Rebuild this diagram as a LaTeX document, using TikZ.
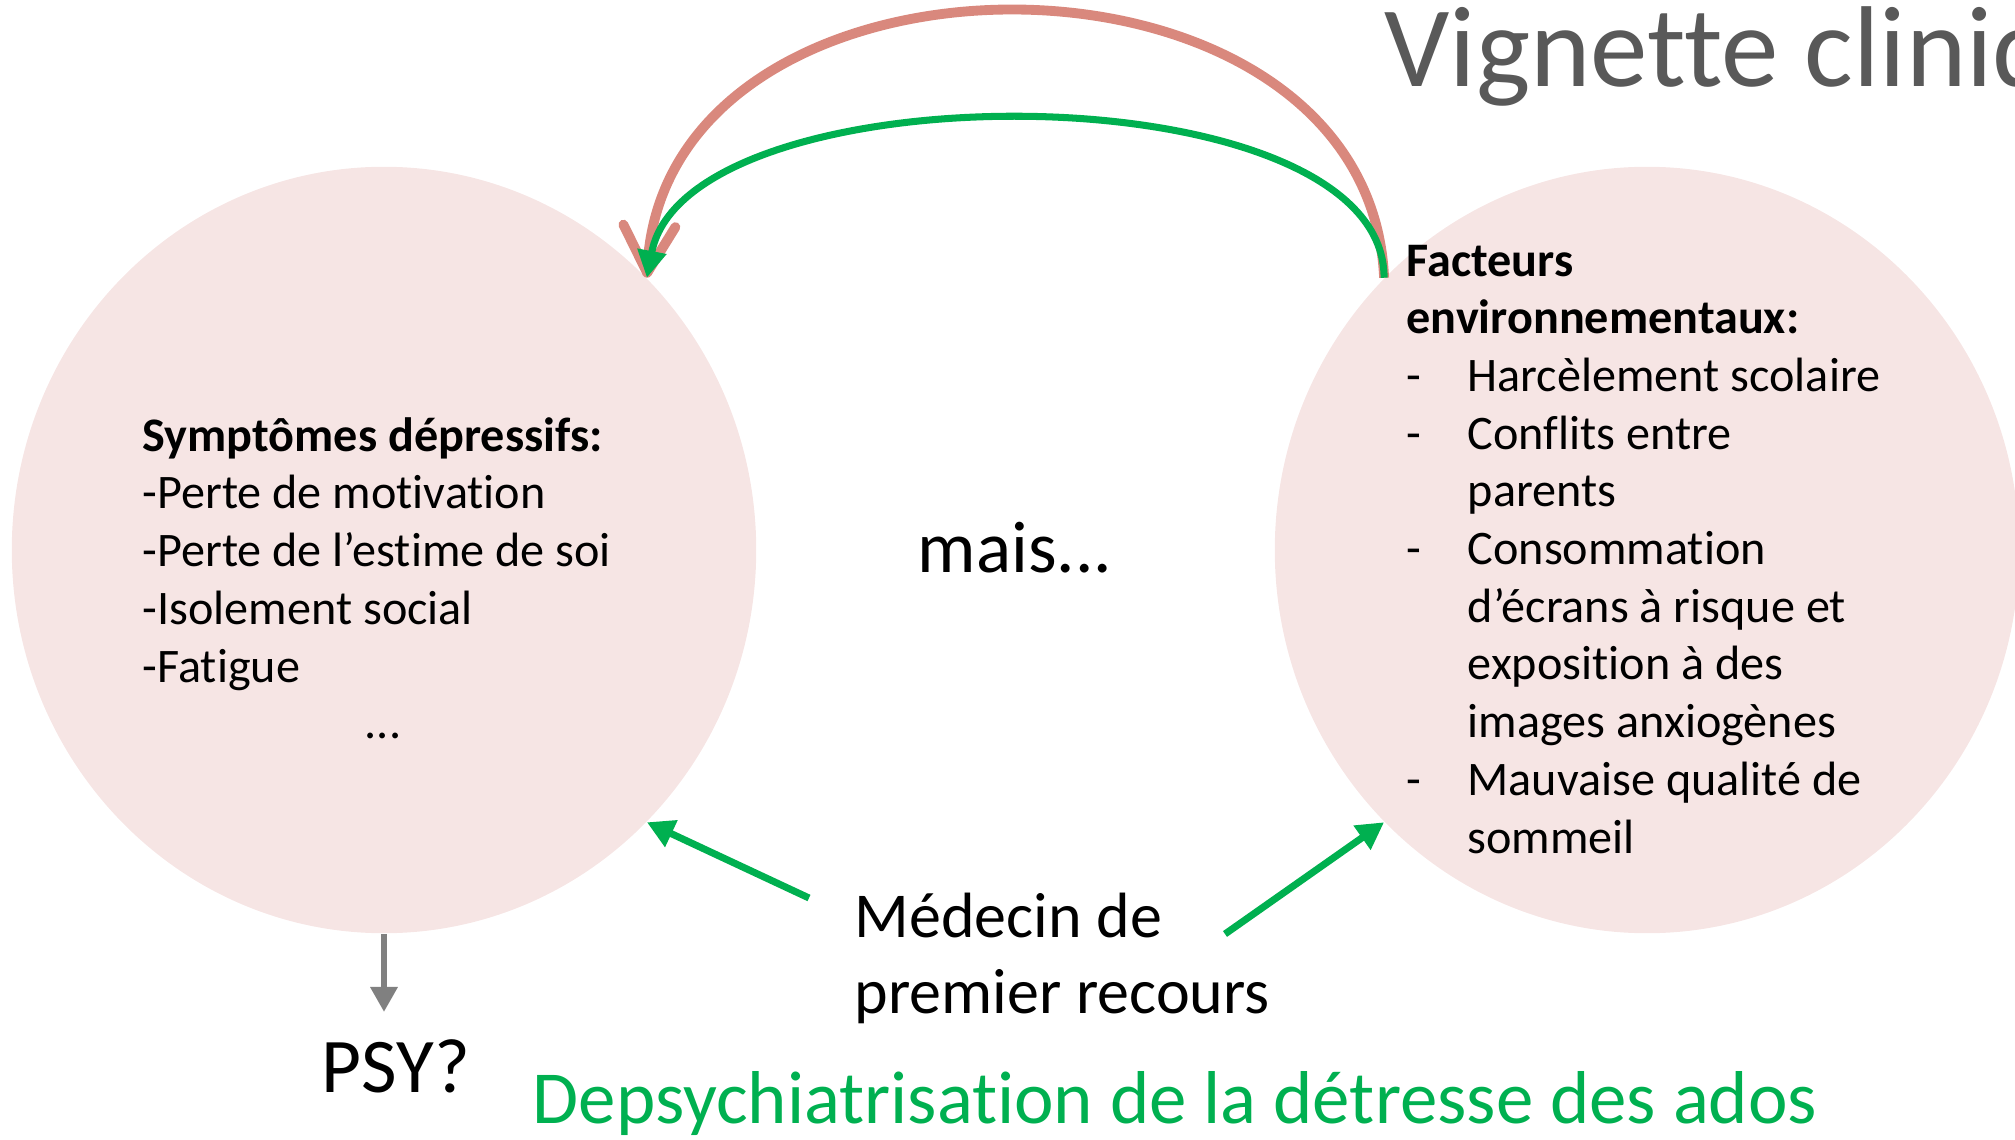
\documentclass[tikz,border=0pt]{standalone}
\usepackage{fontspec}
\setmainfont[Ligatures={NoCommon}]{Carlito}
\usetikzlibrary{arrows.meta}
\usetikzlibrary{shapes.geometric}
\definecolor{blobfill}{RGB}{246,229,228}
\definecolor{loopred}{RGB}{217,136,125}
\definecolor{docgreen}{RGB}{0,176,80}
\definecolor{titlegray}{RGB}{89,89,89}
\definecolor{psygray}{RGB}{128,128,128}
\tikzset{blob/.style = {shape=ellipse,fill=blobfill,minimum width=7.44cm,minimum height=7.66cm,inner sep=0pt}}
\tikzset{body/.style = {font=\fontsize{13.7}{16.4}\selectfont,align=left,inner sep=0pt,anchor=base west}}
\tikzset{greenarrow/.style = {draw=docgreen,line width=2pt,-{Triangle[length=0.27cm,width=0.28cm]}}}
\newcommand{\itm}{\makebox[0.61cm][l]{-}}
\newcommand{\gap}{\hspace*{0.61cm}}

\begin{document}
\begin{tikzpicture}[x=0.01cm,y=-0.01cm]
                \clip (0,0) rectangle (2015,1140);
                \useasboundingbox (0,0) rectangle (2015,1140);

                \node[blob] (symp) at (384,550) {};
                \node[blob] (env) at (1647,550) {};

                \coordinate (lefttail) at (809,898);
                \coordinate (righttail) at (1225,934);
                \coordinate (psytip) at (384,1012);

                \draw[loopred, line width=2.8pt, -{Straight Barb[length=0.47cm,width=0.52cm,round]}] (env.134) .. controls +(-16,-356) and +(17,-356) .. (symp.46);
                \draw[greenarrow] (env.134) .. controls +(0,-211) and +(40,-211) .. (symp.46);
                \draw[greenarrow] (lefttail) -- (symp.-46);
                \draw[greenarrow] (righttail) -- (env.-134);
                \draw[psygray, line width=1.8pt, -{Triangle[length=0.25cm,width=0.26cm]}] (symp.south) -- (psytip);

                % base anchor = last line
                \node[body] (symptxt) at (142,682) {\textbf{Symptômes dépressifs:}\\-Perte de motivation\\-Perte de l’estime de soi\\-Isolement social\\-Fatigue};
                \node[body, anchor=base] (dots) at (383,738) {...};
                \node[body] (envtxt) at (1406,853) {\textbf{Facteurs}\\\textbf{environnementaux:}\\\itm Harcèlement scolaire\\\itm Conflits entre\\\gap parents\\\itm Consommation\\\gap d’écrans à risque et\\\gap exposition à des\\\gap images anxiogènes\\\itm Mauvaise qualité de\\\gap sommeil};

                \node[font=\fontsize{20.8}{25}\selectfont, anchor=base] (mais) at (1015,573) {mais...};
                \node[font=\fontsize{18.2}{21.4}\selectfont, align=left, anchor=base west, inner sep=0pt] (gp) at (854,1013) {Médecin de\\premier recours};
                \node[font=\fontsize{22}{26}\selectfont, anchor=base west, inner sep=0pt] (psy) at (321,1092) {PSY?};
                \node[font=\fontsize{21.3}{26}\selectfont, text=docgreen, anchor=base west, inner sep=0pt] (depsy) at (532,1123) {Depsychiatrisation de la détresse des ados};
                \node[font=\fontsize{32.7}{39}\selectfont, text=titlegray, anchor=base west, inner sep=0pt] (title) at (1384,87) {Vignette clinique};
\end{tikzpicture}
\end{document}
